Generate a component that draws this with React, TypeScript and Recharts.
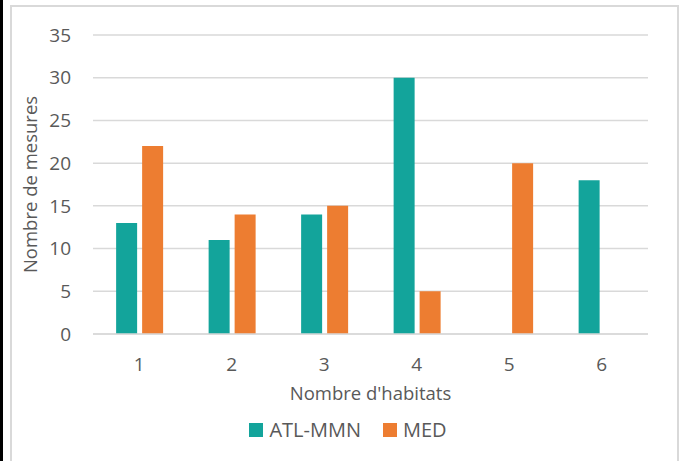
import { Bar, BarChart, CartesianGrid, Legend, XAxis, YAxis } from 'recharts';

const CATEGORIES = ['1', '2', '3', '4', '5', '6'];
const ATL_MMN = [13, 11, 14, 30, 0, 18];
const MED = [22, 14, 15, 5, 20, 0];
const Y_TICKS = [0, 5, 10, 15, 20, 25, 30, 35];

const TEAL = '#13A49B';
const ORANGE = '#ED7D31';
const FONT = '"Open Sans", sans-serif';

const data = CATEGORIES.map((cat, i) => ({ cat, atl: ATL_MMN[i], med: MED[i] }));

function LegendBox() {
  const items = [
    { label: 'ATL-MMN', color: TEAL },
    { label: 'MED', color: ORANGE },
  ];
  return (
    <div style={{ display: 'flex', justifyContent: 'center', gap: 22, fontFamily: FONT, fontSize: 20, color: '#595959' }}>
      {items.map((item) => (
        <div key={item.label} style={{ display: 'flex', alignItems: 'center', gap: 6 }}>
          <span style={{ width: 14, height: 14, background: item.color, display: 'inline-block' }} />
          <span>{item.label}</span>
        </div>
      ))}
    </div>
  );
}

export default function App() {
  return (
    <div style={{ position: 'fixed', left: 0, top: 0, width: 680, height: 461, background: '#fff', overflow: 'hidden' }}>
      <div style={{ position: 'absolute', left: 0, top: 0, width: 3, height: 461, background: '#000' }} />
      <div
        style={{
          position: 'absolute',
          left: 10,
          top: 5,
          width: 665,
          height: 470,
          border: '2px solid #d9d9d9',
        }}
      />
      <div style={{ position: 'absolute', left: 0, top: 0 }}>
        <BarChart
          width={680}
          height={461}
          data={data}
          margin={{ top: 35, right: 32, bottom: 0, left: 0 }}
          barCategoryGap="25%"
          barGap={5}
        >
          <CartesianGrid vertical={false} stroke="#d9d9d9" strokeWidth={1.5} />
          <XAxis
            dataKey="cat"
            height={127}
            axisLine={{ stroke: '#d9d9d9', strokeWidth: 1.5 }}
            tickLine={false}
            tickSize={0}
            tickMargin={24}
            tick={{ fill: '#595959', fontSize: 19, fontFamily: FONT }}
            label={{
              value: "Nombre d'habitats",
              position: 'insideTop',
              offset: 53,
              fill: '#595959',
              fontSize: 18.5,
              fontFamily: FONT,
            }}
          />
          <YAxis
            width={93}
            domain={[0, 35]}
            ticks={Y_TICKS}
            axisLine={false}
            tickLine={false}
            tickSize={0}
            tickMargin={22}
            tick={{ fill: '#595959', fontSize: 19, fontFamily: FONT }}
            label={{
              value: 'Nombre de mesures',
              angle: -90,
              position: 'insideLeft',
              offset: 30,
              fill: '#595959',
              fontSize: 18.5,
              fontFamily: FONT,
              style: { textAnchor: 'middle' },
            }}
          />
          <Legend
            verticalAlign="middle"
            align="center"
            content={() => <LegendBox />}
            wrapperStyle={{ left: 0, width: 696, top: 416 }}
          />
          <Bar dataKey="atl" name="ATL-MMN" fill={TEAL} isAnimationActive={false} />
          <Bar dataKey="med" name="MED" fill={ORANGE} isAnimationActive={false} />
        </BarChart>
      </div>
    </div>
  );
}
